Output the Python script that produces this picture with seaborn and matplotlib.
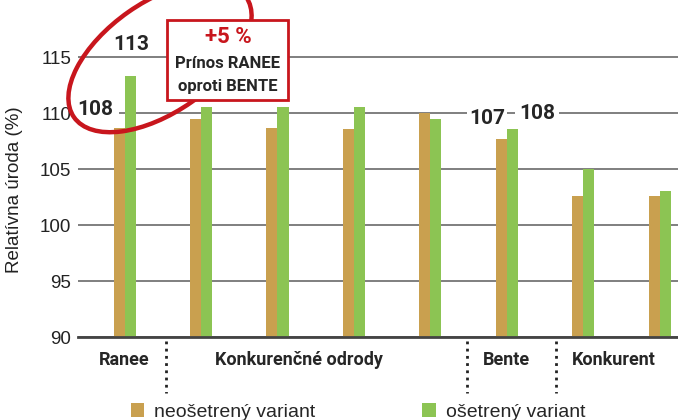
# -*- coding: utf-8 -*-
import pandas as pd
import seaborn as sns
import matplotlib.pyplot as plt
import matplotlib.transforms as mtransforms
from matplotlib.patches import Ellipse, Rectangle

# values (relative yield in %)
kategorie = ["Ranee", "Odroda 1", "Odroda 2", "Odroda 3", "Odroda 4",
             "Bente", "Konkurent 1", "Konkurent 2"]
neosetreny = [108.7, 109.5, 108.7, 108.6, 110.0, 107.7, 102.6, 102.6]
osetreny = [113.3, 110.5, 110.5, 110.5, 109.5, 108.6, 105.0, 103.0]
varianty = ["neošetrený variant", "ošetrený variant"]

skupiny = ["Ranee", "Konkurenčné odrody", "Bente", "Konkurent"]
skupiny_x = [0, 2.28, 5.0, 6.4]
oddelovace = [0.54, 4.48, 5.64]

df = pd.DataFrame({
    "kategoria": kategorie * 2,
    "variant": [varianty[0]] * len(kategorie) + [varianty[1]] * len(kategorie),
    "uroda": neosetreny + osetreny,
})

sns.set_style("white")
plt.rcParams["font.family"] = ["Liberation Sans", "DejaVu Sans"]
cond = ["Liberation Sans Narrow", "Roboto", "DejaVu Sans"]

farby = ["#C9A04F", "#8CC453"]
cervena = "#C8161D"

fig = plt.figure(figsize=(6.78, 4.2), dpi=100)
ax = fig.add_axes([78 / 678, 83 / 420, 600 / 678, 337 / 420])

sns.barplot(data=df, x="kategoria", y="uroda", hue="variant", palette=farby,
            saturation=1, width=0.29, gap=0, ax=ax, linewidth=0, zorder=2)

ax.set_ylim(90, 120.1)
ax.set_xlim(-0.61, 7.24)
ax.set_yticks(range(90, 116, 5))
ax.yaxis.grid(True, color="#7f7f7f", lw=1.4)
ax.set_axisbelow(True)
for s in ["left", "top", "right"]:
    ax.spines[s].set_visible(False)
ax.spines["bottom"].set_color("#444444")
ax.spines["bottom"].set_linewidth(2)
ax.tick_params(axis="both", length=0, labelsize=13.5, colors="#222222", pad=5)
ax.set_xticks([])
ax.set_xlabel("")
ax.set_ylabel("Relatívna úroda (%)", fontsize=13.5, color="#222222")
ax.yaxis.set_label_coords(-0.092, 0.436)

# group labels under the axis and dotted separators
for nazov, x in zip(skupiny, skupiny_x):
    ax.text(x, -0.068, nazov, transform=ax.get_xaxis_transform(), ha="center",
            va="center", fontsize=13, fontweight="bold", family=cond)
for x in oddelovace:
    ax.plot([x, x], [-0.012, -0.165], transform=ax.get_xaxis_transform(),
            color="#222222", lw=2, ls=(0, (1, 1.6)), clip_on=False)

# value labels
popis = dict(va="center", fontsize=15, fontweight="bold", family=cond, zorder=4)
ax.text(0.085, 116.1, "113", ha="center", **popis)
ax.text(-0.15, 110.3, "108", ha="right", bbox=dict(fc="white", ec="none", pad=4), **popis)
ax.text(4.98, 109.5, "107", ha="right", bbox=dict(fc="white", ec="none", pad=1.5), **popis)
ax.text(5.16, 110.0, "108", ha="left", bbox=dict(fc="white", ec="none", pad=2.5), **popis)

# hand drawn circle and the red box (in image pixel coordinates)
px = mtransforms.Affine2D().scale(1 / 678, 1 / 420) + fig.transFigure
kruh = Ellipse((160, 420 - 57), 210, 110, angle=35, fill=False, ec=cervena,
               lw=3.2, transform=px, zorder=5)
fig.add_artist(kruh)
box = Rectangle((167, 420 - 100), 121, 80, fc="white", ec=cervena, lw=2,
                transform=px, zorder=6)
fig.add_artist(box)
fig.text(228 / 678, 1 - 37 / 420, "+5 %", color=cervena, ha="center", va="center",
         fontsize=16, fontweight="bold", family=cond, zorder=7)
fig.text(228 / 678, 1 - 63 / 420, "Prínos RANEE", ha="center", va="center",
         fontsize=12, fontweight="bold", family=cond, zorder=7)
fig.text(228 / 678, 1 - 86 / 420, "oproti BENTE", ha="center", va="center",
         fontsize=12, fontweight="bold", family=cond, zorder=7)

sns.move_legend(ax, "center left", bbox_to_anchor=(121 / 678, 1 - 412 / 420),
                bbox_transform=fig.transFigure, ncol=2, frameon=False, title=None,
                fontsize=14, handlelength=0.7, handleheight=0.7, handletextpad=0.5,
                columnspacing=5.5, borderpad=0)

fig.savefig("out.png", dpi=100)
